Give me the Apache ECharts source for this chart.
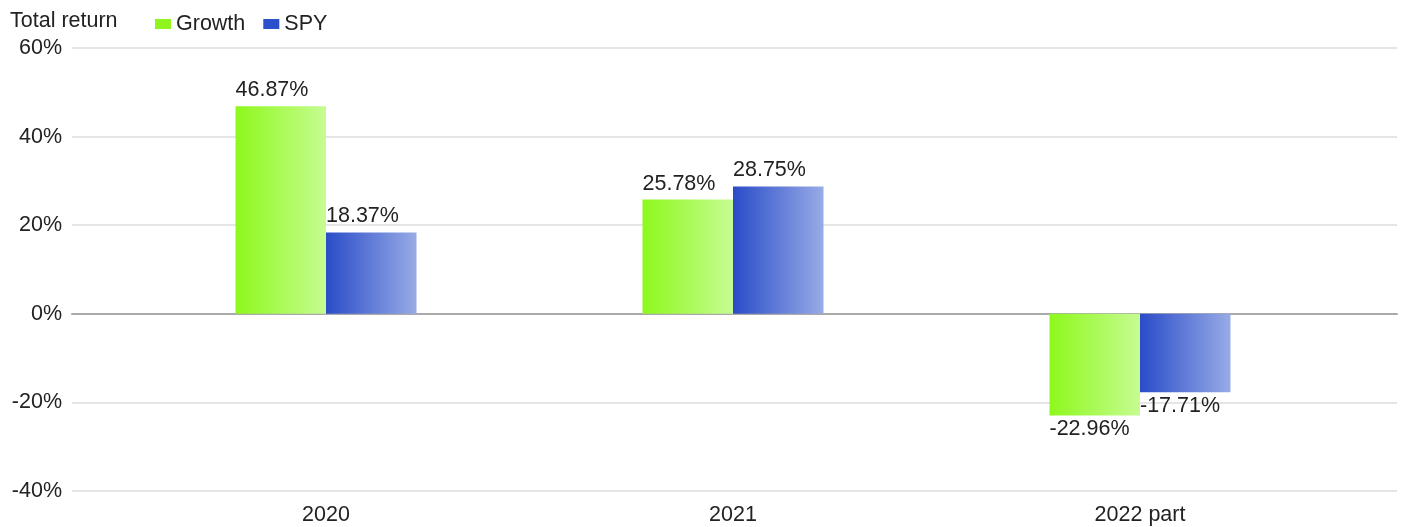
<!DOCTYPE html>
<html>
<head>
<meta charset="utf-8">
<script src="https://cdn.jsdelivr.net/npm/echarts@6/dist/echarts.min.js"></script>
<style>html,body{margin:0;padding:0;background:#fff;}#c{width:1403px;height:527px;}</style>
</head>
<body>
<div id="c"></div>
<script>
const categories = ['2020', '2021', '2022 part'];
const growth = [46.87, 25.78, -22.96];
const spy = [18.37, 28.75, -17.71];
const yTicks = { min: -40, max: 60, interval: 20 };

const FONT = 'Liberation Sans, Arial, sans-serif';
const TXT = '#222';

function grad(a, b) {
  return { type: 'linear', x: 0, y: 0, x2: 1, y2: 0, colorStops: [{ offset: 0, color: a }, { offset: 1, color: b }] };
}
function labelFor(v) {
  return v >= 0
    ? { show: true, position: [0, -27], formatter: v.toFixed(2) + '%' }
    : { show: true, position: [0, '100%'], offset: [0, 3], formatter: v.toFixed(2) + '%' };
}
function mk(arr) { return arr.map(v => ({ value: v, label: labelFor(v) })); }

const chart = echarts.init(document.getElementById('c'));
chart.setOption({
  animation: false,
  textStyle: { fontFamily: FONT },
  title: { text: 'Total return', left: 5, top: 5, textStyle: { fontSize: 21.5, fontWeight: 'normal', color: TXT, fontFamily: FONT } },
  legend: {
    left: 150, top: 8, itemWidth: 16, itemHeight: 10, itemGap: 18, icon: 'rect',
    textStyle: { fontSize: 21.5, color: TXT, fontFamily: FONT },
    data: [
      { name: 'Growth', itemStyle: { color: '#8ef51e' } },
      { name: 'SPY', itemStyle: { color: '#2c4fcb' } }
    ]
  },
  grid: [
    { left: 122.5, right: 59.5, top: 48, bottom: 36 },
    { left: 72, right: 6, top: 48, bottom: 36 }
  ],
  xAxis: [
    { type: 'category', gridIndex: 0, data: categories, boundaryGap: true,
      axisLine: { show: false }, axisTick: { show: false },
      axisLabel: { fontSize: 21.5, color: TXT, margin: 13, fontFamily: FONT } },
    { type: 'value', gridIndex: 1, min: 0, max: 1, axisLabel: { show: false }, axisTick: { show: false }, splitLine: { show: false },
      axisLine: { show: true, onZero: true, lineStyle: { color: '#aaaaaa', width: 2 } } }
  ],
  yAxis: [
    { type: 'value', gridIndex: 0, min: yTicks.min, max: yTicks.max, interval: yTicks.interval, show: false },
    { type: 'value', gridIndex: 1, min: yTicks.min, max: yTicks.max, interval: yTicks.interval,
      axisLine: { show: false }, axisTick: { show: false },
      axisLabel: { fontSize: 21.5, color: TXT, margin: 10, formatter: '{value}%', fontFamily: FONT },
      splitLine: { lineStyle: { color: '#dddddd', width: 1.5 } } }
  ],
  series: [
    { name: 'Growth', type: 'bar', xAxisIndex: 0, yAxisIndex: 0, data: mk(growth), barWidth: 90.5, barGap: '0%',
      itemStyle: { color: grad('#8ef81c', '#c6fc92') },
      label: { fontSize: 21.5, color: TXT, fontFamily: FONT } },
    { name: 'SPY', type: 'bar', xAxisIndex: 0, yAxisIndex: 0, data: mk(spy), barWidth: 90.5, barGap: '0%',
      itemStyle: { color: grad('#2a4cc8', '#98abe6') },
      label: { fontSize: 21.5, color: TXT, fontFamily: FONT } }
  ]
});
</script>
</body>
</html>
